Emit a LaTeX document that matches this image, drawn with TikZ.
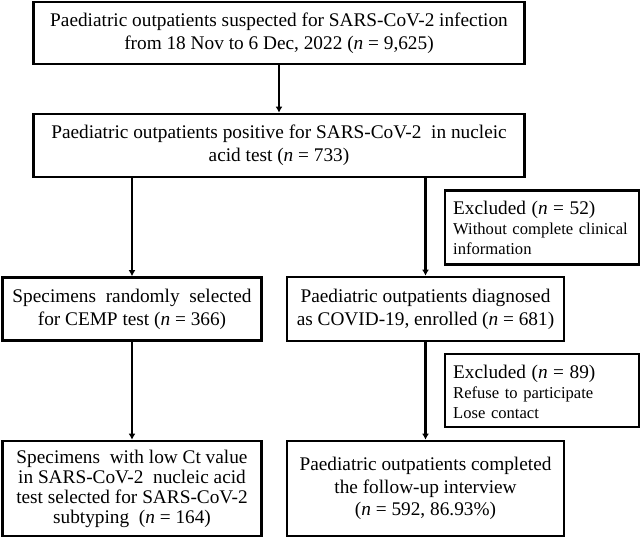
\documentclass[tikz,border=0pt]{standalone}
\usepackage{fontspec}
\setmainfont{Liberation Serif}
\usetikzlibrary{arrows.meta}
\begin{document}
\begin{tikzpicture}[x=1pt,y=-1pt,
  mainbox/.style={draw=black,line width=2.7pt,inner sep=0pt,align=center,
    font=\fontsize{19.3}{23}\selectfont},
  framebox/.style={draw=black,line width=2.7pt,inner sep=0pt},
  excltext/.style={inner sep=0pt,align=left,text width=182pt,
    font=\fontsize{16.6}{20}\selectfont,anchor=north west},
  flow/.style={line width=2.3pt,-{Latex[length=6pt,width=7pt]}}]
\useasboundingbox (0,0) rectangle (640,537);
\node[mainbox,minimum width=491pt,minimum height=62pt] (b1) at (279,33)
  {Paediatric outpatients suspected for SARS-CoV-2 infection\\from 18 Nov to 6 Dec, 2022 (\textit{n} = 9,625)};
\node[mainbox,minimum width=491pt,minimum height=63pt] (b2) at (279,145.5)
  {Paediatric outpatients positive for SARS-CoV-2\ \ in nucleic\\acid test (\textit{n} = 733)};
\node[mainbox,minimum width=259pt,minimum height=63pt] (b3) at (132,309)
  {Specimens\ \ randomly\ \ selected\\for CEMP test (\textit{n} = 366)};
\node[mainbox,minimum width=277pt,minimum height=64pt] (b4) at (425.5,309)
  {Paediatric outpatients diagnosed\\as COVID-19, enrolled (\textit{n} = 681)};
\node[mainbox,minimum width=259pt,minimum height=95pt,font=\fontsize{19.3}{20}\selectfont] (b5) at (132,488.5)
  {Specimens\ \ with low Ct value\\in SARS-CoV-2\ \ nucleic acid\\test selected\ for SARS-CoV-2\\subtyping\ \ (\textit{n} = 164)};
\node[mainbox,minimum width=277pt,minimum height=95pt,font=\fontsize{19.3}{22.5}\selectfont] (b6) at (425.5,488.5)
  {Paediatric outpatients completed\\the follow-up interview\\(\textit{n} = 592, 86.93\%)};
\node[framebox,minimum width=194pt,minimum height=74pt] (e1) at (542,227.5) {};
\node[excltext] (e1t) at (453,201)
  {{\fontsize{19.3}{20}\selectfont Excluded (\textit{n} = 52)}\\Without complete clinical\\information};
\node[framebox,minimum width=194pt,minimum height=73pt] (e2) at (542,390.5) {};
\node[excltext] (e2t) at (453,365)
  {{\fontsize{19.3}{20}\selectfont Excluded (\textit{n} = 89)}\\Refuse to participate\\Lose contact};
\draw[flow] (b1.south) -- (b2.north);
\draw[flow] (b2.south -| b3.north) -- (b3.north);
\draw[flow] (b2.south -| b4.north) -- (b4.north);
\draw[flow] (b3.south) -- (b5.north);
\draw[flow] (b4.south) -- (b6.north);
\end{tikzpicture}
\end{document}
